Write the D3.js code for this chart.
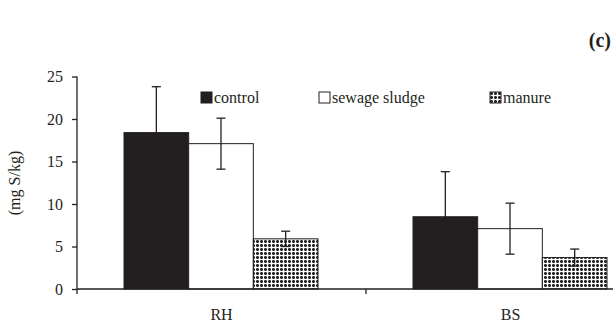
<!DOCTYPE html>
<html>
<head>
<meta charset="utf-8">
<script src="https://cdn.jsdelivr.net/npm/d3@7"></script>
<style>
  body { margin: 0; background: #fff; }
  svg text { font-family: "Liberation Serif", "DejaVu Serif", serif !important; }
</style>
</head>
<body>
<svg id="chart" width="613" height="322"></svg>
<script>
// data
const sites = ["RH", "BS"];
const treatments = ["control", "sewage sludge", "manure"];
const means = [[18.4, 17.1, 5.9], [8.5, 7.1, 3.7]];
const errs = [[5.4, 3.0, 0.9], [5.3, 3.0, 1.0]];
const yTicks = [0, 5, 10, 15, 20, 25];

const svg = d3.select("#chart");
const x0 = 77, yBottom = 289;

// pattern for manure bars
const defs = svg.append("defs");
const pat = defs.append("pattern")
  .attr("id", "dots").attr("patternUnits", "userSpaceOnUse")
  .attr("width", 4).attr("height", 4);
pat.append("rect").attr("width", 4).attr("height", 4).attr("fill", "#fff");
pat.append("rect").attr("x", 0).attr("y", 1).attr("width", 3).attr("height", 1).attr("fill", "#222");
pat.append("rect").attr("x", 1).attr("y", 0).attr("width", 1).attr("height", 3).attr("fill", "#222");
pat.append("rect").attr("x", 0).attr("y", 0).attr("width", 3).attr("height", 3).attr("fill", "#222").attr("opacity", 0.6);

const fills = ["#231f20", "#fff", "url(#dots)"];

const x = d3.scaleBand().domain(sites).range([x0, x0 + 2 * 289]);
const xi = d3.scaleBand().domain(treatments).range([47, 289 - 48]);
const y = d3.scaleLinear().domain([0, 25]).range([yBottom, yBottom - 212.5]);

const g = svg.append("g");

// bars
sites.forEach((s, i) => {
  treatments.forEach((t, j) => {
    g.append("rect")
      .attr("x", x(s) + xi(t))
      .attr("y", y(means[i][j]))
      .attr("width", xi.bandwidth())
      .attr("height", y(0) - y(means[i][j]))
      .attr("fill", fills[j])
      .attr("stroke", "#231f20")
      .attr("stroke-width", 1);
  });
});

// error bars
sites.forEach((s, i) => {
  treatments.forEach((t, j) => {
    const cx = x(s) + xi(t) + xi.bandwidth() / 2;
    const top = y(means[i][j] + errs[i][j]);
    const bot = y(means[i][j] - errs[i][j]);
    const eg = g.append("g").attr("stroke", "#231f20").attr("stroke-width", 1.3);
    eg.append("line").attr("x1", cx).attr("x2", cx).attr("y1", top).attr("y2", bot);
    eg.append("line").attr("x1", cx - 4.5).attr("x2", cx + 4.5).attr("y1", top).attr("y2", top);
    eg.append("line").attr("x1", cx - 4.5).attr("x2", cx + 4.5).attr("y1", bot).attr("y2", bot);
  });
});

// y axis
const yAxis = svg.append("g")
  .attr("transform", `translate(${x0},0)`)
  .call(d3.axisLeft(y).tickValues(yTicks).tickSize(5).tickPadding(9));
yAxis.attr("font-family", null);
yAxis.select(".domain").attr("stroke", "#231f20").attr("stroke-width", 1.3).attr("d", `M0,${y(25)}V${y(0)}`);
yAxis.selectAll(".tick line").attr("stroke", "#231f20").attr("stroke-width", 1.3);
yAxis.selectAll(".tick text").attr("font-size", 16).attr("fill", "#231f20");

// x axis
const xAxis = svg.append("g")
  .attr("transform", `translate(0,${yBottom})`);
xAxis.append("line").attr("x1", x0).attr("x2", 613).attr("y1", 0).attr("y2", 0)
  .attr("stroke", "#231f20").attr("stroke-width", 1.6);
[x0, x0 + 289].forEach(v => {
  xAxis.append("line").attr("x1", v).attr("x2", v).attr("y1", 0).attr("y2", 5)
    .attr("stroke", "#231f20").attr("stroke-width", 1.3);
});
sites.forEach(s => {
  xAxis.append("text")
    .attr("x", x(s) + x.bandwidth() / 2).attr("y", 31)
    .attr("text-anchor", "middle").attr("font-size", 16).attr("fill", "#231f20")
    .text(s);
});

// y label
svg.append("text")
  .attr("transform", "translate(20,183) rotate(-90)")
  .attr("text-anchor", "middle").attr("font-size", 16).attr("fill", "#231f20")
  .text("(mg S/kg)");

// legend
const legendX = [201, 319, 490];
treatments.forEach((t, j) => {
  const lg = svg.append("g").attr("transform", `translate(${legendX[j]},92)`);
  lg.append("rect").attr("width", 11).attr("height", 11)
    .attr("fill", fills[j]).attr("stroke", "#231f20").attr("stroke-width", 1);
  lg.append("text").attr("x", 13).attr("y", 11)
    .attr("font-size", 16).attr("fill", "#231f20").text(t);
});

// panel label
svg.append("text")
  .attr("x", 611).attr("y", 47).attr("text-anchor", "end")
  .attr("font-size", 20).attr("font-weight", "bold").attr("fill", "#231f20")
  .text("(c)");
</script>
</body>
</html>
